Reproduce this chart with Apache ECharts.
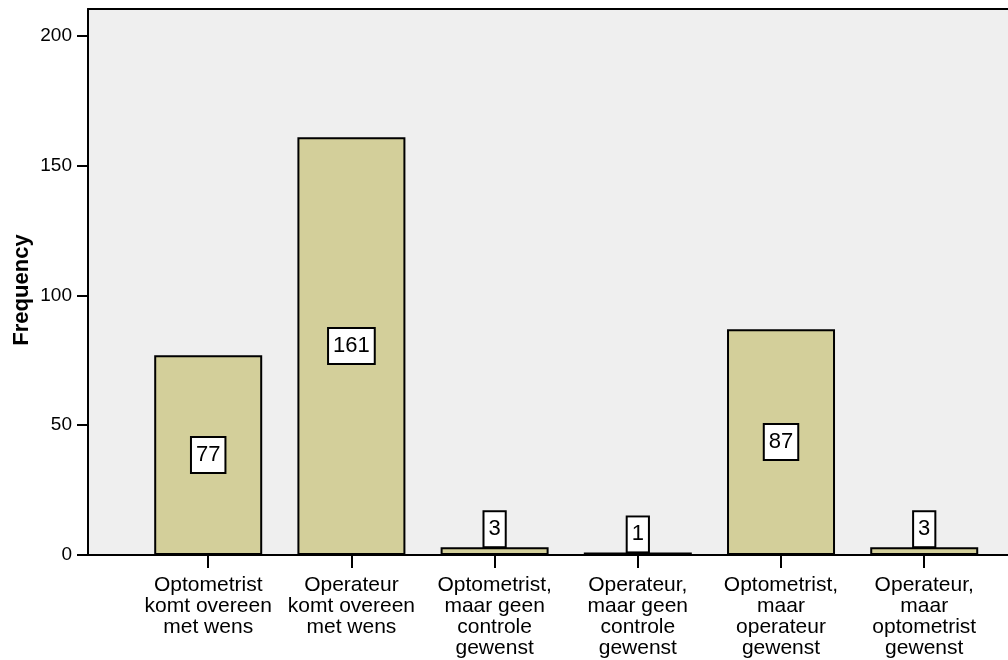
<!DOCTYPE html>
<html>
<head>
<meta charset="utf-8">
<title>Frequency</title>
<script src="https://cdn.jsdelivr.net/npm/echarts@6/dist/echarts.min.js"></script>
<style>
  html, body { margin: 0; padding: 0; background: #ffffff; }
  #chart { width: 1008px; height: 660px; }
</style>
</head>
<body>
<div id="chart"></div>
<script>
// Category names (one per bar) and their counts
const categories = [
  'Optometrist\nkomt overeen\nmet wens',
  'Operateur\nkomt overeen\nmet wens',
  'Optometrist,\nmaar geen\ncontrole\ngewenst',
  'Operateur,\nmaar geen\ncontrole\ngewenst',
  'Optometrist,\nmaar\noperateur\ngewenst',
  'Operateur,\nmaar\noptometrist\ngewenst'
];
const frequencies = [77, 161, 3, 1, 87, 3];
const yTicks = [0, 50, 100, 150, 200];

const FONT = '"Liberation Sans", Arial, Helvetica, sans-serif';
const positions = categories.map((_, i) => i);

// Bars sit on a numeric x scale so the plot frame can extend past the outer bars
const xMin = -0.8394;
const xMax = 5.585;

const chart = echarts.init(document.getElementById('chart'), null, { renderer: 'canvas' });

const labelBox = {
  show: true,
  formatter: p => String(p.value[1]),
  fontFamily: FONT,
  fontSize: 22,
  lineHeight: 22,
  color: '#000000',
  backgroundColor: '#ffffff',
  borderColor: '#000000',
  borderWidth: 2,
  padding: [6, 4]
};

chart.setOption({
  animation: false,
  backgroundColor: '#ffffff',
  grid: {
    left: 88,
    right: 0,
    top: 9,
    bottom: 105,
    outerBoundsMode: 'none',
    containLabel: false,
    show: true,
    backgroundColor: '#EFEFEF',
    borderWidth: 0
  },
  xAxis: [
    {
      type: 'value',
      min: xMin,
      max: xMax,
      position: 'bottom',
      splitLine: { show: false },
      axisLine: { show: true, onZero: false, lineStyle: { color: '#000000', width: 2 } },
      axisTick: {
        show: true,
        length: 13,
        customValues: positions,
        lineStyle: { color: '#000000', width: 2 }
      },
      axisLabel: {
        show: true,
        customValues: positions,
        formatter: v => categories[Math.round(v)] || '',
        margin: 20,
        fontFamily: FONT,
        fontSize: 21,
        lineHeight: 21,
        color: '#000000',
        align: 'center',
        verticalAlign: 'top',
        hideOverlap: false
      }
    },
    {
      type: 'value',
      min: xMin,
      max: xMax,
      position: 'top',
      splitLine: { show: false },
      axisLine: { show: true, onZero: false, lineStyle: { color: '#000000', width: 2 } },
      axisTick: { show: false },
      axisLabel: { show: false }
    }
  ],
  yAxis: {
    type: 'value',
    min: 0,
    max: 210.4,
    position: 'left',
    name: 'Frequency',
    nameLocation: 'middle',
    nameRotate: 90,
    nameGap: 55,
    nameMoveOverlap: false,
    nameTextStyle: {
      fontFamily: FONT,
      fontSize: 22,
      fontWeight: 'bold',
      color: '#000000',
      padding: [0, 0, 0, -16]
    },
    splitLine: { show: false },
    axisLine: { show: true, onZero: false, lineStyle: { color: '#000000', width: 2 } },
    axisTick: {
      show: true,
      length: 11,
      customValues: yTicks,
      lineStyle: { color: '#000000', width: 2 }
    },
    axisLabel: {
      show: true,
      customValues: yTicks,
      margin: 16,
      fontFamily: FONT,
      fontSize: 19,
      color: '#000000'
    }
  },
  series: [
    {
      type: 'bar',
      xAxisIndex: 0,
      barWidth: 108,
      itemStyle: {
        color: '#D3CF9A',
        borderColor: '#000000',
        borderWidth: 2
      },
      data: frequencies.map((v, i) => ({
        value: [positions[i], v],
        label: Object.assign({}, labelBox, v >= 20
          ? { position: 'inside' }
          : { position: 'top', distance: 1 })
      }))
    }
  ]
});
</script>
</body>
</html>
